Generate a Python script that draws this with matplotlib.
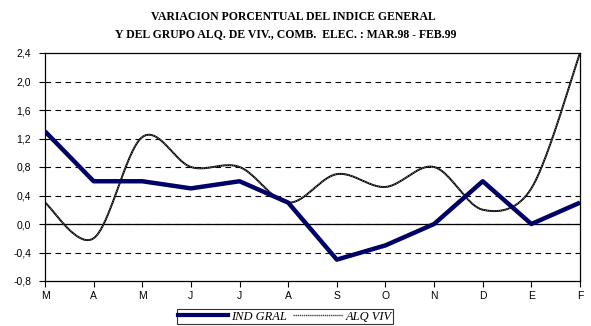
import matplotlib

matplotlib.use("Agg")
import matplotlib.pyplot as plt
import numpy as np
from matplotlib.lines import Line2D

months = ["M", "A", "M", "J", "J", "A", "S", "O", "N", "D", "E", "F"]
ind_gral = [1.3, 0.6, 0.6, 0.5, 0.6, 0.3, -0.5, -0.3, 0.0, 0.6, 0.0, 0.3]
alq_viv = [0.3, -0.2, 1.22, 0.8, 0.8, 0.3, 0.7, 0.52, 0.8, 0.2, 0.5, 2.4]
yticks = [-0.8, -0.4, 0.0, 0.4, 0.8, 1.2, 1.6, 2.0, 2.4]

NAVY = "#000066"

# axes box in pixels (figure is 591 x 326)
X0, X1, YTOP, YBOT = 45, 580, 53, 281


def smooth(y, sx, sy, steps=40):
    """Excel-like smoothed line: cubic Bezier per segment, arms = 1/6 of the
    neighbour chord, capped at half the segment length (screen units)."""
    P = np.column_stack([np.arange(len(y)) * sx, np.asarray(y, float) * sy])
    P = np.vstack([P[:1], P, P[-1:]])
    out = []
    for i in range(1, len(P) - 2):
        p0, p1, p2, p3 = P[i - 1], P[i], P[i + 1], P[i + 2]
        d12 = np.hypot(*(p2 - p1))
        a1 = (p2 - p0) / 6
        a2 = (p3 - p1) / 6
        for a in (a1, a2):
            n = np.hypot(*a)
            if n > d12 / 2:
                a *= d12 / 2 / n
        c1, c2 = p1 + a1, p2 - a2
        t = np.linspace(0, 1, steps, endpoint=False)[:, None]
        out.append((1 - t) ** 3 * p1 + 3 * (1 - t) ** 2 * t * c1
                   + 3 * (1 - t) * t ** 2 * c2 + t ** 3 * p2)
    out.append(P[-2:-1])
    pts = np.vstack(out)
    return pts[:, 0] / sx, pts[:, 1] / sy


fig = plt.figure(figsize=(5.91, 3.26), dpi=100)
ax = fig.add_axes([X0 / 591, 1 - YBOT / 326, (X1 - X0) / 591,
                   (YBOT - YTOP) / 326])

x = np.arange(len(months))
for v in yticks[1:-1]:
    ax.axhline(v, color="black", lw=0.8, ls=(0, (5, 4)), zorder=1)
ax.axhline(0, color="black", lw=0.9, zorder=1)

px_x = (X1 - X0) / (len(months) - 1)
px_y = (YBOT - YTOP) / (yticks[-1] - yticks[0])
cx, cy = smooth(alq_viv, px_x, px_y)
ax.plot(cx, cy, color="#000000", lw=1.4, zorder=2)
ax.plot(cx, cy, color="white", lw=0.45, ls=(0, (1, 2)), zorder=2)
ax.plot(x, ind_gral, color=NAVY, lw=3.2, zorder=3, solid_capstyle="butt")

ax.set_xlim(0, len(months) - 1)
ax.set_ylim(yticks[0], yticks[-1])
ax.set_xticks(x)
ax.set_xticklabels(months)
ax.set_yticks(yticks)
ax.set_yticklabels([f"{v:.1f}".replace(".", ",") for v in yticks])
ax.tick_params(direction="out", length=4, width=0.8, labelsize=7.5, pad=6)
ax.tick_params(axis="x", pad=3.5)
for lab in ax.get_xticklabels() + ax.get_yticklabels():
    lab.set_fontfamily("Liberation Sans")
for s in ax.spines.values():
    s.set_linewidth(0.9)

title_kw = dict(ha="center", va="center", fontsize=8.5, fontweight="bold",
                family="Liberation Serif")
fig.text(293 / 591, 1 - 17 / 326,
         "VARIACION PORCENTUAL DEL INDICE GENERAL", **title_kw)
fig.text(286 / 591, 1 - 34 / 326,
         "Y DEL GRUPO ALQ. DE VIV., COMB.  ELEC. : MAR.98 - FEB.99",
         **title_kw)

handles = [Line2D([], [], color=NAVY, lw=3.0),
           Line2D([], [], color="#444444", lw=1.0, ls=(0, (1, 0.5)))]
leg = fig.legend(handles, ["IND GRAL", "ALQ VIV"], loc="center",
                 bbox_to_anchor=(285 / 591, 1 - 316.5 / 326), ncol=2,
                 frameon=True, fancybox=False, edgecolor="black",
                 handlelength=4.0, handletextpad=0.2, columnspacing=0.5,
                 borderpad=0.1, borderaxespad=0,
                 prop={"family": "Liberation Serif", "style": "italic",
                       "size": 9})
leg.get_frame().set_linewidth(0.8)

fig.savefig("out.png", dpi=100)
